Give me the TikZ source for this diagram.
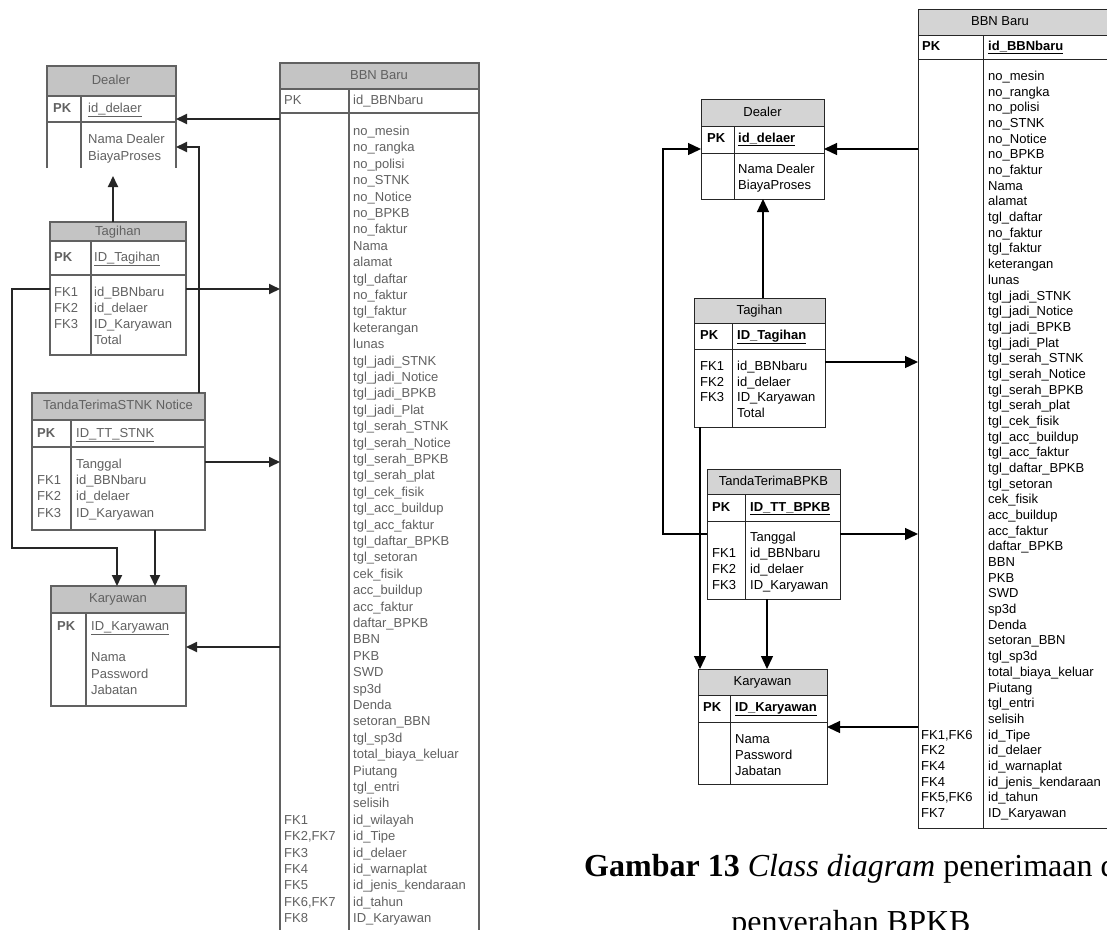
\documentclass[tikz,border=0pt]{standalone}
\usepackage{fontspec}
\setmainfont{Liberation Sans}
\newfontfamily\captionserif{Liberation Serif}
\usetikzlibrary{arrows.meta}

% one entity table: header band, key row, attribute area, column divider
% #1 name, #2 x, #3 y, #4 width, #5 height, #6 header bottom, #7 key row bottom, #8 divider x, #9 L or R
\newcommand{\entitybox}[9]{%
  \fill[hdr#9] (#2,#3) rectangle ({#2+#4},#6);
  \node[boxnode, minimum width=#4pt, minimum height=#5pt, ent#9] (#1) at (#2,#3) {};
  \draw[ent#9] (#2,#6) -- ({#2+#4},#6) (#2,#7) -- ({#2+#4},#7) (#8,#6) -- (#8,{#3+#5});
}

\begin{document}
\begin{tikzpicture}[
  x=1pt, y=-1pt,
  hdrR/.style={fill=black!17},
  hdrL/.style={fill=black!23},
  entR/.style={draw=black!85, line width=0.9pt},
  entL/.style={draw=black!62, line width=1.2pt},
  boxnode/.style={anchor=north west, inner sep=0, outer sep=0},
  lnkR/.style={line width=1.3pt, -{Triangle[length=13pt,width=12pt]}},
  lnkL/.style={draw=black!85, line width=1.8pt, -{Triangle[length=11pt,width=10pt]}},
  txtR/.style={anchor=west, inner sep=0, text height=9.5pt, text depth=2.5pt, font=\fontsize{13}{15}\selectfont},
  txtL/.style={txtR, text=black!62},
  ttlR/.style={txtR, anchor=center},
  ttlL/.style={txtL, anchor=center},
]
\useasboundingbox (0,0) rectangle (1107,929);
\clip (0,0) rectangle (1107,929);
\fill[white] (0,0) rectangle (1107,929);

% ================= left diagram (STNK / Notice) =================
% Dealer
\fill[hdrL] (47,66) rectangle (176,96);
\node[boxnode, minimum width=129pt, minimum height=110pt] (dealerL) at (47,66) {};
\draw[entL] (47,168) -- (47,66) -- (176,66) -- (176,168);
\draw[entL] (47,96) -- (176,96) (47,122) -- (176,122) (81,96) -- (81,168);
\node[ttlL] (dealerLh) at (111,81) {Dealer};
\node[txtL] (dealerLpk) at (53,109) {\textbf{PK}};
\node[txtL] (dealerLid) at (88,109) {\underline{id\_delaer}};
\node[txtL] (dealerLa1) at (88,140) {Nama Dealer};
\node[txtL] (dealerLa2) at (88,157) {BiayaProses};

% Tagihan
\entitybox{tagihanL}{50}{222}{136}{133}{241}{275}{91}{L}
\node[ttlL] (tagihanLh) at (118,232) {Tagihan};
\node[txtL] (tagihanLpk) at (54,258) {\textbf{PK}};
\node[txtL] (tagihanLid) at (94,258) {\underline{ID\_Tagihan}};
\foreach \k/\a [count=\i from 0] in {FK1/id\_BBNbaru, FK2/id\_delaer, FK3/ID\_Karyawan, /Total}{
  \node[txtL] (tagihanLk\i) at (54,{293+16*\i}) {\k};
  \node[txtL] (tagihanLa\i) at (94,{293+16*\i}) {\a};
}

% TandaTerimaSTNK Notice
\entitybox{ttL}{32}{393}{173}{137}{420}{447}{71}{L}
\node[ttlL] (ttLh) at (118,406) {TandaTerimaSTNK Notice};
\node[txtL] (ttLpk) at (37,434) {\textbf{PK}};
\node[txtL] (ttLid) at (76,434) {\underline{ID\_TT\_STNK}};
\foreach \k/\a [count=\i from 0] in {/Tanggal, FK1/id\_BBNbaru, FK2/id\_delaer, FK3/ID\_Karyawan}{
  \node[txtL] (ttLk\i) at (37,{465+16.2*\i}) {\k};
  \node[txtL] (ttLa\i) at (76,{465+16.2*\i}) {\a};
}

% Karyawan
\entitybox{karyL}{51}{586}{135}{120}{613}{613}{86}{L}
\node[ttlL] (karyLh) at (118,599) {Karyawan};
\node[txtL] (karyLpk) at (57,627) {\textbf{PK}};
\node[txtL] (karyLid) at (91,627) {\underline{ID\_Karyawan}};
\foreach \a [count=\i from 0] in {Nama, Password, Jabatan}{
  \node[txtL] (karyLa\i) at (91,{658+16.7*\i}) {\a};
}

% BBN Baru
\entitybox{bbnL}{280}{63}{199}{900}{89}{113}{349}{L}
\node[ttlL] (bbnLh) at (379,76) {BBN Baru};
\node[txtL] (bbnLpk) at (284,101) {PK};
\node[txtL] (bbnLid) at (353,101) {id\_BBNbaru};
\foreach \a [count=\i from 0] in {no\_mesin, no\_rangka, no\_polisi, no\_STNK, no\_Notice, no\_BPKB, no\_faktur, Nama, alamat, tgl\_daftar, no\_faktur, tgl\_faktur, keterangan, lunas, tgl\_jadi\_STNK, tgl\_jadi\_Notice, tgl\_jadi\_BPKB, tgl\_jadi\_Plat, tgl\_serah\_STNK, tgl\_serah\_Notice, tgl\_serah\_BPKB, tgl\_serah\_plat, tgl\_cek\_fisik, tgl\_acc\_buildup, tgl\_acc\_faktur, tgl\_daftar\_BPKB, tgl\_setoran, cek\_fisik, acc\_buildup, acc\_faktur, daftar\_BPKB, BBN, PKB, SWD, sp3d, Denda, setoran\_BBN, tgl\_sp3d, total\_biaya\_keluar, Piutang, tgl\_entri, selisih, id\_wilayah, id\_Tipe, id\_delaer, id\_warnaplat, id\_jenis\_kendaraan, id\_tahun, ID\_Karyawan}{
  \node[txtL] (bbnLa\i) at (353,{132+16.4*\i}) {\a};
}
\foreach \k [count=\i from 42] in {FK1, {FK2,FK7}, FK3, FK4, FK5, {FK6,FK7}, FK8}{
  \node[txtL] (bbnLk\i) at (284,{132+16.4*\i}) {\k};
}

% left connectors
\draw[lnkL] (bbnL.west |- 0,119) -- (dealerL.east |- 0,119);
\draw[lnkL] (199,0 |- ttL.north) -- (199,147) -- (dealerL.east |- 0,147);
\draw[lnkL] (113,0 |- tagihanL.north) -- (113,0 |- dealerL.south);
\draw[lnkL] (tagihanL.east |- 0,289) -- (bbnL.west |- 0,289);
\draw[lnkL] (tagihanL.west |- 0,289) -| (12,548) -| (117,0 |- karyL.north);
\draw[lnkL] (ttL.east |- 0,462) -- (bbnL.west |- 0,462);
\draw[lnkL] (155,0 |- ttL.south) -- (155,0 |- karyL.north);
\draw[lnkL] (bbnL.west |- 0,647) -- (karyL.east |- 0,647);

% ================= right diagram (BPKB) =================
% Dealer
\entitybox{dealerR}{701}{99}{123}{100}{126}{153}{734}{R}
\node[ttlR] (dealerRh) at (762.5,112.5) {Dealer};
\node[txtR] (dealerRpk) at (707,139) {\textbf{PK}};
\node[txtR] (dealerRid) at (738,139) {\textbf{\underline{id\_delaer}}};
\node[txtR] (dealerRa1) at (738,170) {Nama Dealer};
\node[txtR] (dealerRa2) at (738,186) {BiayaProses};

% Tagihan
\entitybox{tagihanR}{694}{298}{131}{129}{323}{349}{732}{R}
\node[ttlR] (tagihanRh) at (759.5,310.5) {Tagihan};
\node[txtR] (tagihanRpk) at (700,336) {\textbf{PK}};
\node[txtR] (tagihanRid) at (737,336) {\textbf{\underline{ID\_Tagihan}}};
\foreach \k/\a [count=\i from 0] in {FK1/id\_BBNbaru, FK2/id\_delaer, FK3/ID\_Karyawan, /Total}{
  \node[txtR] (tagihanRk\i) at (700,{367+15.7*\i}) {\k};
  \node[txtR] (tagihanRa\i) at (737,{367+15.7*\i}) {\a};
}

% TandaTerimaBPKB
\entitybox{ttR}{707}{469}{133}{130}{494}{521}{745}{R}
\node[ttlR] (ttRh) at (773.5,481.5) {TandaTerimaBPKB};
\node[txtR] (ttRpk) at (712,508) {\textbf{PK}};
\node[txtR] (ttRid) at (750,508) {\textbf{\underline{ID\_TT\_BPKB}}};
\foreach \k/\a [count=\i from 0] in {/Tanggal, FK1/id\_BBNbaru, FK2/id\_delaer, FK3/ID\_Karyawan}{
  \node[txtR] (ttRk\i) at (712,{538+16*\i}) {\k};
  \node[txtR] (ttRa\i) at (750,{538+16*\i}) {\a};
}

% Karyawan
\entitybox{karyR}{698}{669}{129}{115}{695}{722}{730}{R}
\node[ttlR] (karyRh) at (762.5,682) {Karyawan};
\node[txtR] (karyRpk) at (703,708) {\textbf{PK}};
\node[txtR] (karyRid) at (735,708) {\textbf{\underline{ID\_Karyawan}}};
\foreach \a [count=\i from 0] in {Nama, Password, Jabatan}{
  \node[txtR] (karyRa\i) at (735,{740+16*\i}) {\a};
}

% BBN Baru
\entitybox{bbnR}{918}{9}{220}{819}{35}{59}{983}{R}
\node[ttlR] (bbnRh) at (1000,22) {BBN Baru};
\node[txtR] (bbnRpk) at (922,47) {\textbf{PK}};
\node[txtR] (bbnRid) at (988,47) {\textbf{\underline{id\_BBNbaru}}};
\foreach \a [count=\i from 0] in {no\_mesin, no\_rangka, no\_polisi, no\_STNK, no\_Notice, no\_BPKB, no\_faktur, Nama, alamat, tgl\_daftar, no\_faktur, tgl\_faktur, keterangan, lunas, tgl\_jadi\_STNK, tgl\_jadi\_Notice, tgl\_jadi\_BPKB, tgl\_jadi\_Plat, tgl\_serah\_STNK, tgl\_serah\_Notice, tgl\_serah\_BPKB, tgl\_serah\_plat, tgl\_cek\_fisik, tgl\_acc\_buildup, tgl\_acc\_faktur, tgl\_daftar\_BPKB, tgl\_setoran, cek\_fisik, acc\_buildup, acc\_faktur, daftar\_BPKB, BBN, PKB, SWD, sp3d, Denda, setoran\_BBN, tgl\_sp3d, total\_biaya\_keluar, Piutang, tgl\_entri, selisih, id\_Tipe, id\_delaer, id\_warnaplat, id\_jenis\_kendaraan, id\_tahun, ID\_Karyawan}{
  \node[txtR] (bbnRa\i) at (988,{77+15.68*\i}) {\a};
}
\foreach \k [count=\i from 42] in {{FK1,FK6}, FK2, FK4, FK4, {FK5,FK6}, FK7}{
  \node[txtR] (bbnRk\i) at (921,{77+15.68*\i}) {\k};
}

% right connectors
\draw[lnkR] (bbnR.west |- 0,149) -- (dealerR.east |- 0,149);
\draw[lnkR] (ttR.west |- 0,534) -| (663,149) -- (dealerR.west |- 0,149);
\draw[lnkR] (763,0 |- tagihanR.north) -- (763,0 |- dealerR.south);
\draw[lnkR] (tagihanR.east |- 0,362) -- (bbnR.west |- 0,362);
\draw[lnkR] (700,0 |- tagihanR.south) -- (700,0 |- karyR.north);
\draw[lnkR] (ttR.east |- 0,534) -- (bbnR.west |- 0,534);
\draw[lnkR] (767,0 |- ttR.south) -- (767,0 |- karyR.north);
\draw[lnkR] (bbnR.west |- 0,727) -- (karyR.east |- 0,727);

% caption
\node[anchor=base west, inner sep=0, font=\captionserif\fontsize{32}{32}\selectfont] (capA) at (584,876)
  {\textbf{Gambar 13} \textit{Class diagram} penerimaan dan};
\node[anchor=base, inner sep=0, font=\captionserif\fontsize{32}{32}\selectfont] (capB) at (851,932)
  {penyerahan BPKB};
\end{tikzpicture}
\end{document}
